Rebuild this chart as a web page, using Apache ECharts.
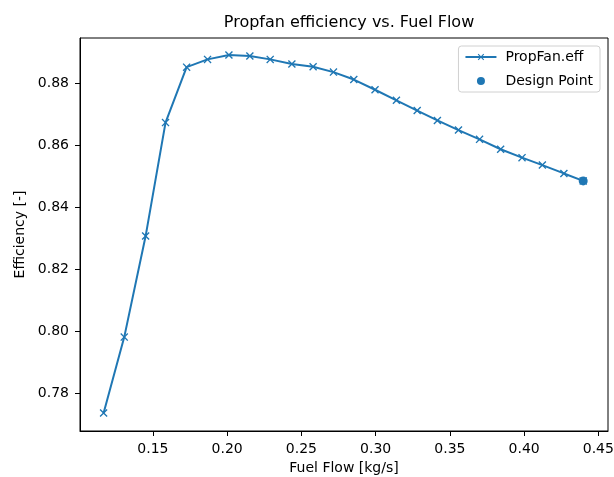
<!DOCTYPE html>
<html>
<head>
<meta charset="utf-8">
<script src="https://cdn.jsdelivr.net/npm/echarts@6/dist/echarts.min.js"></script>
<style>
html,body{margin:0;padding:0;background:#fff;}
#chart{width:614px;height:477px;}
</style>
</head>
<body>
<div id="chart"></div>
<script>
var fuelFlow = [0.1168, 0.1307, 0.1451, 0.1585, 0.1727, 0.1868, 0.2012, 0.2153, 0.2290, 0.2436, 0.2579, 0.2716, 0.2853, 0.2996, 0.3140, 0.3280, 0.3416, 0.3558, 0.3700, 0.3842, 0.3986, 0.4123, 0.4268, 0.4398];
var efficiency = [0.7736, 0.7981, 0.8307, 0.8673, 0.8852, 0.8877, 0.8891, 0.8888, 0.8877, 0.8862, 0.8853, 0.8836, 0.8812, 0.8779, 0.8745, 0.8712, 0.8680, 0.8649, 0.8619, 0.8587, 0.8560, 0.8536, 0.8509, 0.8485];
var designFlow = [0.4398];
var designEff = [0.8485];
var xTicks = [0.15, 0.20, 0.25, 0.30, 0.35, 0.40, 0.45];
var yTicks = [0.78, 0.80, 0.82, 0.84, 0.86, 0.88];

var FONT = 'DejaVu Sans';
var BLUE = '#1f77b4';
var X_SYMBOL = 'path://M0,1.2L1.2,0L5,3.8L8.8,0L10,1.2L6.2,5L10,8.8L8.8,10L5,6.2L1.2,10L0,8.8L3.8,5Z';

var lineData = fuelFlow.map(function (x, i) { return [x, efficiency[i]]; });
var dpData = designFlow.map(function (x, i) { return [x, designEff[i]]; });

var chart = echarts.init(document.getElementById('chart'), null, {renderer: 'canvas'});
chart.setOption({
  backgroundColor: '#fff',
  animation: false,
  textStyle: {fontFamily: FONT},
  title: {
    text: 'Propfan efficiency vs. Fuel Flow',
    left: 344, textAlign: 'center', top: 10,
    textStyle: {fontFamily: FONT, fontSize: 16, fontWeight: 'normal', color: '#000'}
  },
  legend: {
    orient: 'vertical',
    right: 14, top: 46,
    padding: [4, 7, 4, 6],
    itemWidth: 31, itemHeight: 8, itemGap: 10,
    backgroundColor: 'rgba(255,255,255,0.8)',
    borderColor: '#d0d0d0', borderWidth: 1, borderRadius: 3,
    formatter: '{p|{name}}',
    textStyle: {fontFamily: FONT, fontSize: 14, color: '#000',
      rich: {p: {fontFamily: FONT, fontSize: 14, color: '#000', padding: [0, 0, 0, 4]}}},
    data: ['PropFan.eff', 'Design Point']
  },
  grid: {left: 80, right: 6, top: 38, bottom: 46, show: true, borderColor: '#000', borderWidth: 1,
    outerBoundsMode: 'none', containLabel: false},
  xAxis: {
    type: 'value', min: 0.1009, max: 0.4565,
    name: 'Fuel Flow [kg/s]', nameLocation: 'middle', nameGap: 29,
    nameTextStyle: {fontFamily: FONT, fontSize: 14, color: '#000'},
    axisLine: {show: true, onZero: false, lineStyle: {color: '#000', width: 1}},
    axisTick: {show: true, length: 5, inside: false, customValues: xTicks, lineStyle: {color: '#000'}},
    axisLabel: {show: true, margin: 11, customValues: xTicks, fontFamily: FONT, fontSize: 14, color: '#000',
      formatter: function (v) { return v.toFixed(2); }},
    splitLine: {show: false}
  },
  yAxis: {
    type: 'value', min: 0.7678, max: 0.8946,
    name: 'Efficiency [-]', nameLocation: 'middle', nameGap: 53,
    nameTextStyle: {fontFamily: FONT, fontSize: 14, color: '#000'},
    axisLine: {show: true, onZero: false, lineStyle: {color: '#000', width: 1}},
    axisTick: {show: true, length: 5, inside: false, customValues: yTicks, lineStyle: {color: '#000'}},
    axisLabel: {show: true, margin: 11, customValues: yTicks, fontFamily: FONT, fontSize: 14, color: '#000',
      formatter: function (v) { return v.toFixed(2); }},
    splitLine: {show: false}
  },
  series: [
    {
      name: 'PropFan.eff', type: 'line', data: lineData,
      symbol: X_SYMBOL, symbolSize: 8, showAllSymbol: true,
      lineStyle: {color: BLUE, width: 2},
      itemStyle: {color: BLUE, borderWidth: 0},
      z: 2
    },
    {
      name: 'Design Point', type: 'scatter', data: dpData,
      symbol: 'circle', symbolSize: 9,
      itemStyle: {color: BLUE, opacity: 1},
      z: 10, zlevel: 1
    }
  ]
});
</script>
</body>
</html>
